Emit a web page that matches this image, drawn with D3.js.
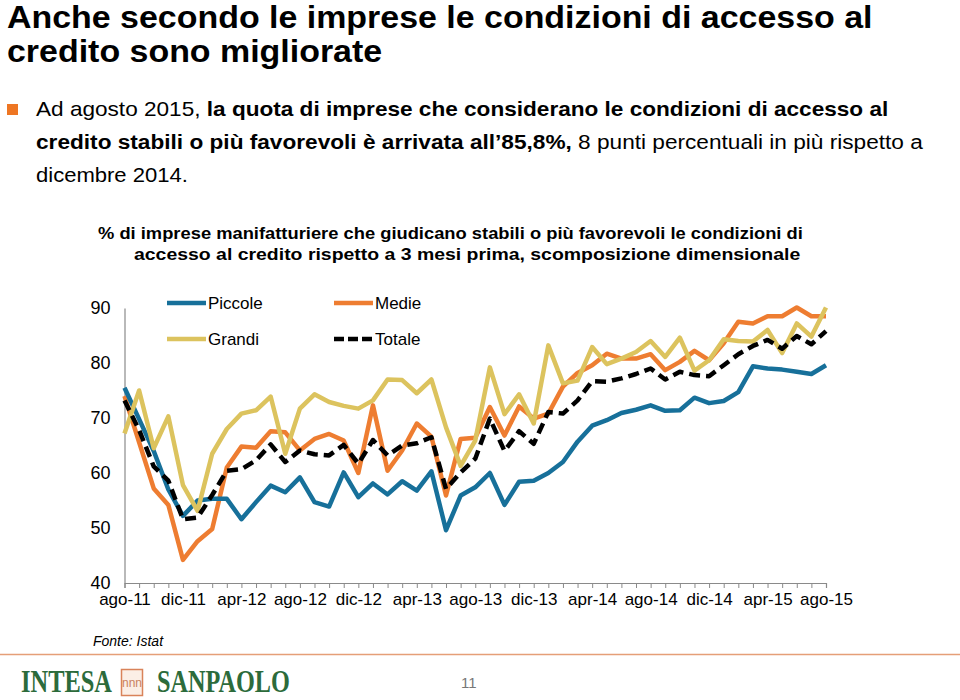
<!DOCTYPE html>
<html>
<head>
<meta charset="utf-8">
<script src="https://cdn.jsdelivr.net/npm/d3@7"></script>
<style>
  html, body { margin: 0; padding: 0; background: #fff; }
  svg { display: block; font-family: "Liberation Sans", Arial, Helvetica, sans-serif; }
</style>
</head>
<body>
<svg id="chart" width="960" height="700"></svg>
<script>
// ---------------- DATA ----------------
const months = [
  "ago-11","set-11","ott-11","nov-11","dic-11",
  "gen-12","feb-12","mar-12","apr-12","mag-12","giu-12","lug-12","ago-12","set-12","ott-12","nov-12","dic-12",
  "gen-13","feb-13","mar-13","apr-13","mag-13","giu-13","lug-13","ago-13","set-13","ott-13","nov-13","dic-13",
  "gen-14","feb-14","mar-14","apr-14","mag-14","giu-14","lug-14","ago-14","set-14","ott-14","nov-14","dic-14",
  "gen-15","feb-15","mar-15","apr-15","mag-15","giu-15","lug-15","ago-15"
];
const tickLabels = ["ago-11","dic-11","apr-12","ago-12","dic-12","apr-13","ago-13","dic-13","apr-14","ago-14","dic-14","apr-15","ago-15"];
const yTicks = [40, 50, 60, 70, 80, 90];

const piccole = [75.5,69.8,64.0,57.0,52.2,55.0,55.3,55.3,51.6,54.7,57.7,56.5,59.2,54.7,53.9,60.1,
  55.6,58.1,56.1,58.5,56.8,60.3,49.6,55.9,57.4,60.0,54.2,58.4,58.6,60.0,62.0,65.7,
  68.6,69.6,70.9,71.5,72.3,71.3,71.4,73.7,72.7,73.1,74.7,79.4,79.0,78.8,78.4,78.0,79.6];
const medie = [74.0,65.6,57.2,54.2,44.2,47.6,49.8,61.0,64.8,64.6,67.6,67.4,64.1,66.2,67.1,65.9,
  60.0,72.3,60.4,64.1,69.0,66.6,55.9,66.2,66.4,72.0,66.8,72.1,69.9,70.8,75.7,78.2,
  79.6,81.7,80.8,80.8,81.6,78.7,80.2,82.2,80.5,83.6,87.5,87.2,88.5,88.5,90.1,88.5,88.5];
const grandi = [67.2,75.0,64.5,70.3,57.8,53.1,63.5,68.0,70.8,71.4,73.9,63.5,71.7,74.3,72.9,72.2,
  71.7,73.2,77.0,76.9,74.5,77.0,68.3,61.3,65.9,79.2,70.7,74.3,69.0,83.2,76.3,76.8,
  82.9,79.8,80.8,82.0,84.0,81.1,84.6,78.6,80.5,84.3,84.0,83.9,86.0,81.8,87.2,84.8,90.1];
const totale = [73.2,67.8,61.2,58.6,51.6,51.9,56.0,60.4,60.7,62.3,65.2,62.0,64.1,63.4,63.2,65.1,
  61.7,66.0,63.2,65.0,65.4,66.5,57.1,60.1,62.6,69.9,64.0,67.6,65.3,71.1,70.8,73.2,
  76.7,76.6,77.2,78.0,79.0,77.0,78.4,77.8,77.6,79.6,81.6,83.1,84.2,82.6,84.9,83.4,85.8];

const seriesNames = ["Piccole", "Medie", "Grandi", "Totale"];
const seriesColors = ["#17709A", "#EE7D31", "#DCC35E", "#000000"];
const seriesValues = [piccole, medie, grandi, totale];

// ---------------- LAYOUT ----------------
const svg = d3.select("#chart");

function fit(sel, x, y, target, sy) {
  const w = sel.node().getComputedTextLength();
  sel.attr("x", 0).attr("y", 0)
     .attr("transform", `translate(${x},${y}) scale(${target / w},${sy || 1})`);
}

// Title
const t1 = svg.append("text").attr("font-size", 32).attr("font-weight", "bold").attr("fill", "#000")
  .text("Anche secondo le imprese le condizioni di accesso al");
const t2 = svg.append("text").attr("font-size", 32).attr("font-weight", "bold").attr("fill", "#000")
  .text("credito sono migliorate");
const tw = t1.node().getComputedTextLength();
const tScale = 866 / tw;
t1.attr("transform", `translate(7,28) scale(${tScale},1)`);
t2.attr("transform", `translate(7,62) scale(${tScale},1)`);

// Bullet
svg.append("rect").attr("x", 7).attr("y", 104).attr("width", 11).attr("height", 11).attr("fill", "#EE7623");

const b1 = svg.append("text").attr("font-size", 21).attr("fill", "#000");
b1.append("tspan").text("Ad agosto 2015, ");
b1.append("tspan").attr("font-weight", "bold").text("la quota di imprese che considerano le condizioni di accesso al");
fit(b1, 36, 116, 853);

const b2 = svg.append("text").attr("font-size", 21).attr("fill", "#000");
b2.append("tspan").attr("font-weight", "bold").text("credito stabili o più favorevoli è arrivata all’85,8%,");
b2.append("tspan").text(" 8 punti percentuali in più rispetto a");
fit(b2, 36, 149, 887);

const b3 = svg.append("text").attr("font-size", 21).attr("fill", "#000").text("dicembre 2014.");
fit(b3, 36, 182, 152);

// Chart subtitle
const s1 = svg.append("text").attr("font-size", 16.5).attr("font-weight", "bold").attr("fill", "#000")
  .text("% di imprese manifatturiere che giudicano stabili o più favorevoli le condizioni di");
fit(s1, 98, 239, 705);
const s2 = svg.append("text").attr("font-size", 16.5).attr("font-weight", "bold").attr("fill", "#000")
  .text("accesso al credito rispetto a 3 mesi prima, scomposizione dimensionale");
fit(s2, 134, 260, 667);

// Scales
const x = d3.scalePoint().domain(months).range([124.5, 826]);
const y = d3.scaleLinear().domain([40, 90]).range([583, 308]);

// Y axis
const yAxis = svg.append("g").attr("transform", "translate(124.5,0)")
  .call(d3.axisLeft(y).tickValues(yTicks).tickSize(0).tickPadding(14).tickFormat(d3.format("d")));
yAxis.select(".domain").attr("stroke", "#8a8a8a").attr("stroke-width", 1.2);
yAxis.selectAll("text").attr("font-size", 18).attr("fill", "#000")
  .attr("font-family", "Liberation Sans, Arial, sans-serif");

// X axis
const xAxis = svg.append("g").attr("transform", "translate(0,583)")
  .call(d3.axisBottom(x).tickValues(months).tickSize(5).tickPadding(5)
    .tickFormat(d => tickLabels.includes(d) ? d : ""));
xAxis.select(".domain").attr("stroke", "#8a8a8a").attr("stroke-width", 1.2);
xAxis.selectAll(".tick line").attr("stroke", "#8a8a8a");
xAxis.selectAll("text").attr("font-size", 17).attr("fill", "#000")
  .attr("font-family", "Liberation Sans, Arial, sans-serif");

// Lines
const line = d3.line().x((d, i) => x(months[i])).y(d => y(d));
const drawOrder = [1, 0, 2, 3];
drawOrder.forEach(k => {
  svg.append("path")
    .datum(seriesValues[k])
    .attr("fill", "none")
    .attr("stroke", seriesColors[k])
    .attr("stroke-width", 4.5)
    .attr("stroke-linejoin", "round")
    .attr("stroke-dasharray", k === 3 ? "11,6" : null)
    .attr("d", line);
});

// Legend
const legendPos = [
  {x: 167, y: 303}, {x: 334, y: 303},
  {x: 167, y: 339}, {x: 334, y: 339}
];
seriesNames.forEach((name, k) => {
  const p = legendPos[k];
  svg.append("line")
    .attr("x1", p.x).attr("x2", p.x + 39).attr("y1", p.y).attr("y2", p.y)
    .attr("stroke", seriesColors[k]).attr("stroke-width", 4.5)
    .attr("stroke-dasharray", k === 3 ? "10,4" : null);
  svg.append("text").attr("x", p.x + 41).attr("y", p.y + 6)
    .attr("font-size", 17).attr("fill", "#000").text(name);
});

// Source
svg.append("text").attr("x", 93).attr("y", 646).attr("font-size", 14)
  .attr("font-style", "italic").attr("fill", "#000").text("Fonte: Istat");

// Footer line
svg.append("line").attr("x1", 0).attr("x2", 960).attr("y1", 654.5).attr("y2", 654.5)
  .attr("stroke", "#E59F78").attr("stroke-width", 1.5);

// Logo
const l1 = svg.append("text").attr("font-family", "Liberation Serif, Times New Roman, serif")
  .attr("font-size", 28).attr("font-weight", "bold").attr("fill", "#2C6B3B").text("INTESA");
fit(l1, 21, 692, 91, 1.12);
svg.append("rect").attr("x", 121.5).attr("y", 669.5).attr("width", 21).attr("height", 26)
  .attr("fill", "#FBEFE6").attr("stroke", "#D9835A").attr("stroke-width", 1.5);
svg.append("text").attr("x", 132).attr("y", 687).attr("text-anchor", "middle")
  .attr("font-size", 12).attr("fill", "#C9825E").text("nnn");
const l2 = svg.append("text").attr("font-family", "Liberation Serif, Times New Roman, serif")
  .attr("font-size", 28).attr("font-weight", "bold").attr("fill", "#2C6B3B").text("SANPAOLO");
fit(l2, 157, 692, 133, 1.12);

// Page number
svg.append("text").attr("x", 461).attr("y", 688).attr("font-size", 15)
  .attr("fill", "#777").text("11");
</script>
</body>
</html>
